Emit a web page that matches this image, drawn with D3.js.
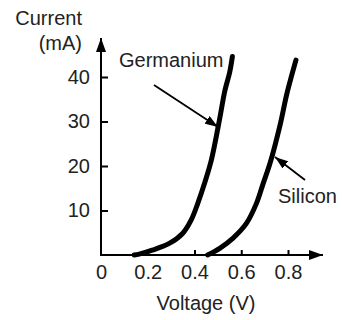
<!DOCTYPE html>
<html>
<head>
<meta charset="utf-8">
<script src="https://cdn.jsdelivr.net/npm/d3@7"></script>
<style>
  html, body { margin: 0; padding: 0; background: #fff; }
  text { font-family: "Liberation Sans", Arial, Helvetica, sans-serif; fill: #222; }
</style>
</head>
<body>
<svg id="chart" width="342" height="320"></svg>
<script>
// ---- Data ----
const xTickValues = [0, 0.2, 0.4, 0.6, 0.8];
const xTickLabels = ["0", "0.2", "0.4", "0.6", "0.8"];
const yTickValues = [10, 20, 30, 40];
const yTickLabels = ["10", "20", "30", "40"];

const germaniumV = [0.142, 0.163, 0.219, 0.292, 0.350, 0.386, 0.414, 0.443, 0.472, 0.508, 0.529, 0.551, 0.562];
const germaniumI = [0.0, 0.2, 1.1, 2.6, 4.9, 7.9, 11.6, 16.1, 21.3, 30.7, 36.7, 41.2, 44.6];

const siliconV = [0.456, 0.508, 0.565, 0.622, 0.665, 0.694, 0.723, 0.766, 0.794, 0.816, 0.834];
const siliconI = [0.0, 1.5, 3.8, 7.1, 11.6, 16.1, 20.6, 29.2, 36.0, 40.4, 43.8];

const xTitle = "Voltage (V)";
const yTitleLines = ["Current", "(mA)"];
const seriesLabels = ["Germanium", "Silicon"];

// ---- Drawing ----
const svg = d3.select("#chart");
const FS = 20;

const x = d3.scaleLinear().domain([0, 0.8]).range([101, 288]);
const y = d3.scaleLinear().domain([0, 40]).range([255, 77]);

const defs = svg.append("defs");
defs.append("marker")
  .attr("id", "axhead").attr("viewBox", "0 0 14 10")
  .attr("refX", 14).attr("refY", 5)
  .attr("markerWidth", 14).attr("markerHeight", 10)
  .attr("markerUnits", "userSpaceOnUse").attr("orient", "auto")
  .append("path").attr("d", "M0,0 L14,5 L0,10 Z").attr("fill", "#000");
defs.append("marker")
  .attr("id", "ptrhead").attr("viewBox", "0 0 13 9")
  .attr("refX", 13).attr("refY", 4.5)
  .attr("markerWidth", 13).attr("markerHeight", 9)
  .attr("markerUnits", "userSpaceOnUse").attr("orient", "auto")
  .append("path").attr("d", "M0,0 L13,4.5 L0,9 Z").attr("fill", "#000");

// axis lines with arrows
svg.append("line")
  .attr("x1", x(0)).attr("y1", y(0)).attr("x2", 323).attr("y2", y(0))
  .attr("stroke", "#000").attr("stroke-width", 2).attr("marker-end", "url(#axhead)");
svg.append("line")
  .attr("x1", x(0)).attr("y1", y(0) + 1).attr("x2", x(0)).attr("y2", 38)
  .attr("stroke", "#000").attr("stroke-width", 2).attr("marker-end", "url(#axhead)");

// x axis ticks
const xAxis = d3.axisBottom(x)
  .tickValues(xTickValues)
  .tickFormat((d, i) => xTickLabels[i])
  .tickSize(-5).tickPadding(10);
const gx = svg.append("g").attr("transform", `translate(0,${y(0)})`).call(xAxis);
gx.select(".domain").remove();
gx.selectAll(".tick line").attr("stroke", "#000").attr("stroke-width", 2)
  .filter(d => d === 0).remove();
gx.selectAll(".tick text").attr("font-size", FS).attr("fill", "#222")
  .attr("font-family", "Liberation Sans, Arial, sans-serif");

// y axis ticks
const yAxis = d3.axisLeft(y)
  .tickValues(yTickValues)
  .tickFormat((d, i) => yTickLabels[i])
  .tickSize(-7).tickPadding(11);
const gy = svg.append("g").attr("transform", `translate(${x(0)},0)`).call(yAxis);
gy.select(".domain").remove();
gy.selectAll(".tick line").attr("stroke", "#000").attr("stroke-width", 2);
gy.selectAll(".tick text").attr("font-size", FS).attr("fill", "#222")
  .attr("font-family", "Liberation Sans, Arial, sans-serif");

// curves
const line = d3.line().x(d => x(d[0])).y(d => y(d[1])).curve(d3.curveCatmullRom.alpha(0.5));
const ge = germaniumV.map((v, i) => [v, germaniumI[i]]);
const si = siliconV.map((v, i) => [v, siliconI[i]]);
[ge, si].forEach(s => {
  svg.append("path").datum(s).attr("d", line)
    .attr("fill", "none").attr("stroke", "#000")
    .attr("stroke-width", 5).attr("stroke-linecap", "round");
});

// axis titles
svg.append("text").attr("x", 82).attr("y", 25).attr("text-anchor", "end")
  .attr("font-size", FS).text(yTitleLines[0]);
svg.append("text").attr("x", 82).attr("y", 50).attr("text-anchor", "end")
  .attr("font-size", FS).text(yTitleLines[1]);
svg.append("text").attr("x", 206).attr("y", 310).attr("text-anchor", "middle")
  .attr("font-size", FS).text(xTitle);

// series labels with pointer arrows
svg.append("text").attr("x", 119).attr("y", 67).attr("font-size", FS).text(seriesLabels[0]);
svg.append("line").attr("x1", 154).attr("y1", 85).attr("x2", 218).attr("y2", 127)
  .attr("stroke", "#000").attr("stroke-width", 1.8).attr("marker-end", "url(#ptrhead)");
svg.append("text").attr("x", 278).attr("y", 203).attr("font-size", FS).text(seriesLabels[1]);
svg.append("line").attr("x1", 305).attr("y1", 180).attr("x2", 275).attr("y2", 157)
  .attr("stroke", "#000").attr("stroke-width", 1.8).attr("marker-end", "url(#ptrhead)");
</script>
</body>
</html>
